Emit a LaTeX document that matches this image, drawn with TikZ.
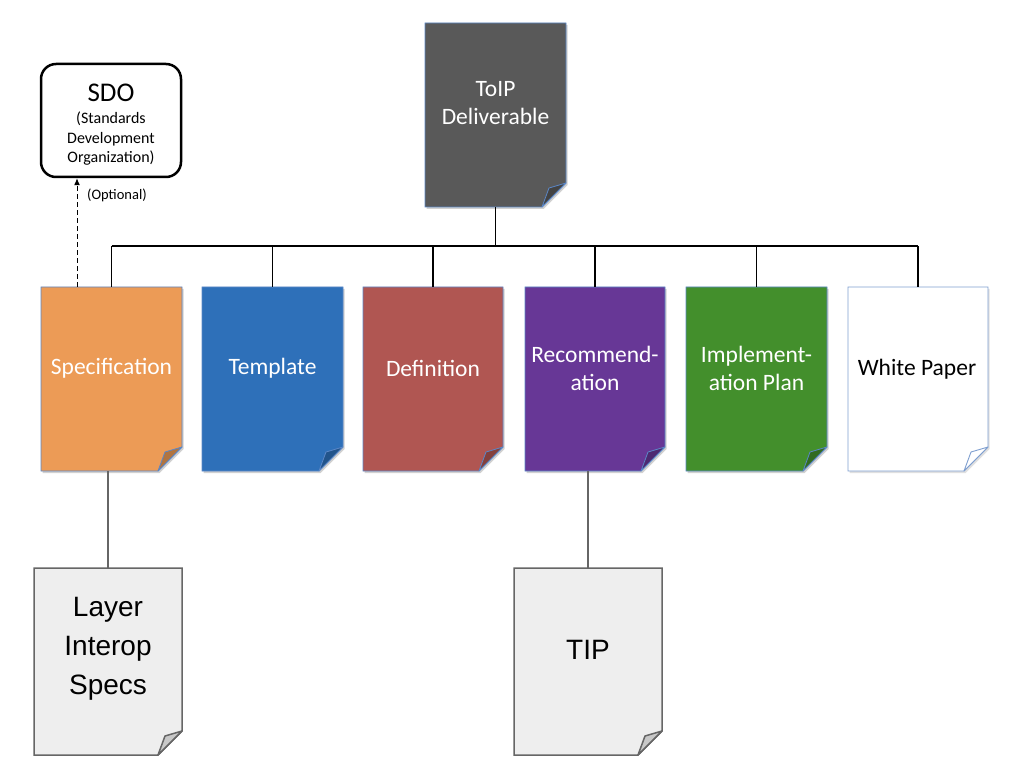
\documentclass[tikz,border=0pt]{standalone}
\usepackage{fontspec}
\setmainfont{Carlito}
\newfontfamily\lsansfam{Liberation Sans}
\usetikzlibrary{arrows.meta}
\definecolor{toipgray}{HTML}{595959}
\definecolor{docblue}{HTML}{5B87C7}
\definecolor{specor}{HTML}{EC9B56}
\definecolor{templ}{HTML}{2E70B9}
\definecolor{defin}{HTML}{B05652}
\definecolor{recom}{HTML}{673796}
\definecolor{implg}{HTML}{438F2C}
\definecolor{wpblue}{HTML}{7F9FD0}
\definecolor{lightdoc}{HTML}{EEEEEE}
\definecolor{docedge}{HTML}{666666}
\definecolor{foldgray}{HTML}{C8C8C8}
% #1 name, #2 x1, #3 y1, #4 x2, #5 y2, #6 body style, #7 fold style, #8 shadow opacity
\newcommand\docnode[8]{%
  \path[fill=black,opacity=#8] (#2+1.5,#3+2) -- (#4+1.5,#3+2) -- (#4+1.5,#5-22) -- (#4-22.5,#5+2) -- (#2+1.5,#5+2) -- cycle;
  \path[#6] (#2,#3) -- (#4,#3) -- (#4,#5-24) -- (#4-24,#5) -- (#2,#5) -- cycle;
  \path[#7] (#4,#5-24) .. controls (#4-8,#5-21) .. (#4-17,#5-19) .. controls (#4-20,#5-10) .. (#4-24,#5) -- cycle;
  \node[inner sep=0pt,minimum width=#4-#2,minimum height=#5-#3] (#1) at ({(#2+#4)/2},{(#3+#5)/2}) {};
}
\tikzset{
  coltext/.style={text=white,font={\fontsize{23.5}{28}\selectfont},align=center,inner sep=0pt},
  bigtext/.style={text=black,font={\lsansfam\fontsize{28}{39}\selectfont},align=center,inner sep=0pt},
  conn/.style={draw=black,line width=1.1pt},
  subconn/.style={draw=docedge,line width=1.5pt},
  colbody/.style={fill=#1,draw=docblue,line width=0.8pt},
  colfold/.style={fill=#1!75!black,draw=docblue,line width=0.8pt,line join=round},
}
\begin{document}
\begin{tikzpicture}[x=1pt,y=-1pt]
\useasboundingbox (0,0) rectangle (1010,770);
% documents
\docnode{toip}{425}{23}{566}{207}{colbody=toipgray}{colfold=toipgray}{0.18}
\docnode{spec}{41}{287}{182}{471}{colbody=specor}{colfold=specor}{0.18}
\docnode{templ}{202}{287}{343}{471}{colbody=templ}{colfold=templ}{0.18}
\docnode{defin}{363}{287}{503}{471}{colbody=defin}{colfold=defin}{0.18}
\docnode{recom}{525}{287}{665}{471}{colbody=recom}{colfold=recom}{0.18}
\docnode{impl}{686}{287}{827}{471}{colbody=implg}{colfold=implg}{0.18}
\docnode{white}{848}{287}{988}{471}{fill=white,draw=wpblue,line width=0.9pt}{fill=white,draw=wpblue,line width=0.9pt,line join=round}{0.12}
\docnode{layer}{34}{568}{182}{755}{fill=lightdoc,draw=docedge,line width=1.5pt}{fill=foldgray,draw=docedge,line width=1.5pt,line join=round}{0}
\docnode{tip}{514}{568}{662}{755}{fill=lightdoc,draw=docedge,line width=1.5pt}{fill=foldgray,draw=docedge,line width=1.5pt,line join=round}{0}
% texts
\node[coltext] (toipt) at (495.5,103) {ToIP\\Deliverable};
\node[coltext] (spect) at (111.5,368) {Specification};
\node[coltext] (templt) at (272.5,368) {Template};
\node[coltext] (dedint) at (433,368) {Definition};
\node[coltext] (recomt) at (595,368) {Recommend-\\ation};
\node[coltext] (implt) at (756.5,368) {Implement-\\ation Plan};
\node[coltext,text=black] (whitet) at (917,369) {White Paper};
\node[bigtext] (layert) at (108,649) {Layer\\Interop\\Specs};
\node[bigtext] (tipt) at (588,650) {TIP};
% SDO
\node[draw=black,line width=2.5pt,rounded corners=15pt,minimum width=140pt,minimum height=113pt,inner sep=0pt] (sdo) at (111,120.5) {};
\node[inner sep=0pt,font={\fontsize{27}{30}\selectfont}] (sdot) at (111,93) {SDO};
\node[inner sep=0pt,align=center,font={\fontsize{16}{19.5}\selectfont}] (sdosub) at (111,139) {(Standards\\Development\\Organization)};
\node[inner sep=0pt,font={\fontsize{14.5}{16}\selectfont},anchor=west] (opt) at (87,195) {(Optional)};
% connectors
\coordinate (bus) at (496,246);
\draw[conn] (toip.south) -- (toip.south |- bus);
\draw[conn] (spec.north |- bus) -- (white.north |- bus);
\foreach \n in {spec,templ,defin,recom,impl,white}{
  \draw[conn] (\n.north) -- (\n.north |- bus);
}
\draw[black,line width=1pt,dashed,dash pattern=on 5pt off 3pt,-{Latex[length=7pt,width=6pt]}] ([xshift=-34.5pt]spec.north) -- ([xshift=-34.5pt]spec.north |- sdo.south);
\draw[subconn] (layer.north) -- (layer.north |- spec.south);
\draw[subconn] (tip.north) -- (tip.north |- recom.south);
\end{tikzpicture}
\end{document}
